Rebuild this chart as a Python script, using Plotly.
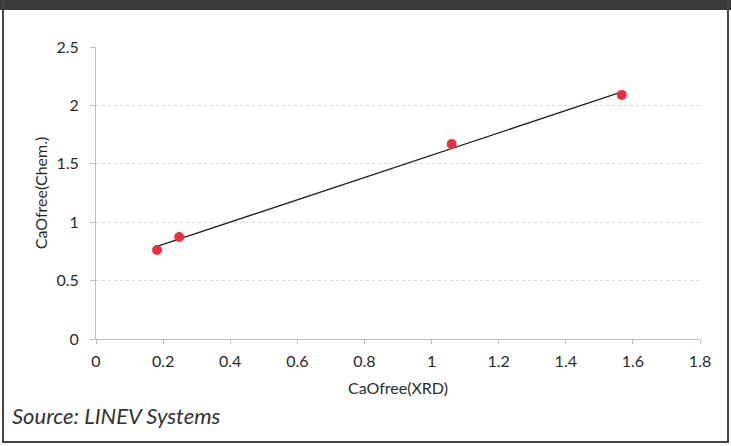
import numpy as np
import plotly.graph_objects as go

# Data
xrd = [0.182, 0.248, 1.06, 1.567]
chem = [0.762, 0.873, 1.67, 2.09]
x_ticks = [0, 0.2, 0.4, 0.6, 0.8, 1, 1.2, 1.4, 1.6, 1.8]
y_ticks = [0, 0.5, 1, 1.5, 2, 2.5]

W, H = 731, 446
L, R, T, B = 96, 31, 47, 107
pw, ph = W - L - R, H - T - B

def px(x):
    return (x - L) / pw

def py(y):
    return (H - B - y) / ph

slope, intercept = np.polyfit(xrd, chem, 1)
xl = [min(xrd), max(xrd)]
yl = [slope * v + intercept for v in xl]

fig = go.Figure()
fig.add_trace(go.Scatter(x=xl, y=yl, mode="lines",
                         line=dict(color="#222222", width=1.3),
                         hoverinfo="skip", showlegend=False))
fig.add_trace(go.Scatter(x=xrd, y=chem, mode="markers",
                         marker=dict(color="#e8313f", size=10),
                         showlegend=False))

font_fam = "Lato, Open Sans, sans-serif"
tick_font = dict(size=16, color="#2a2a2a", family=font_fam)
title_font = dict(size=16, color="#2a2a2a", family=font_fam)
fig.update_layout(
    width=W, height=H,
    margin=dict(l=L, r=R, t=T, b=B),
    paper_bgcolor="white", plot_bgcolor="white",
    font=dict(family=font_fam, color="#2a2a2a", size=13),
    xaxis=dict(range=[0, 1.8], tickvals=x_ticks,
               ticktext=[f"{v:g}" for v in x_ticks],
               showgrid=False, zeroline=False,
               showline=True, linecolor="#bfbfbf", linewidth=1,
               ticks="outside", ticklen=4, tickcolor="#bfbfbf",
               tickfont=tick_font, ticklabelstandoff=4,
               title=dict(text="CaOfree(XRD)", font=title_font, standoff=13)),
    yaxis=dict(range=[0, 2.5], tickvals=y_ticks,
               ticktext=[f"{v:g}" for v in y_ticks],
               showgrid=True, gridcolor="#dcdcdc", griddash="dot", gridwidth=1,
               zeroline=False,
               showline=True, linecolor="#bfbfbf", linewidth=1,
               ticks="outside", ticklen=5, tickcolor="#bfbfbf",
               tickfont=tick_font, ticklabelstandoff=8,
               title=dict(text="CaOfree(Chem.)", font=title_font, standoff=4)),
    shapes=[
        dict(type="rect", xref="paper", yref="paper", layer="above",
             x0=px(0), x1=px(W), y0=py(0), y1=py(10),
             fillcolor="#3a3a3a", line=dict(width=0)),
        dict(type="line", xref="paper", yref="paper",
             x0=px(3), x1=px(3), y0=py(0), y1=py(443),
             line=dict(color="#444444", width=2)),
        dict(type="line", xref="paper", yref="paper",
             x0=px(728), x1=px(728), y0=py(0), y1=py(443),
             line=dict(color="#444444", width=2)),
        dict(type="line", xref="paper", yref="paper",
             x0=px(2), x1=px(729), y0=py(442), y1=py(442),
             line=dict(color="#444444", width=2)),
    ],
    annotations=[
        dict(text="<i>Source: LINEV Systems</i>", xref="paper", yref="paper",
             x=px(10), y=py(415), xanchor="left", yanchor="middle",
             showarrow=False, font=dict(size=22, color="#333333", family=font_fam)),
    ],
)

fig.write_html("out.html", config={"displayModeBar": False},
               post_script="document.body.style.margin='0px';document.body.style.overflow='hidden';")
